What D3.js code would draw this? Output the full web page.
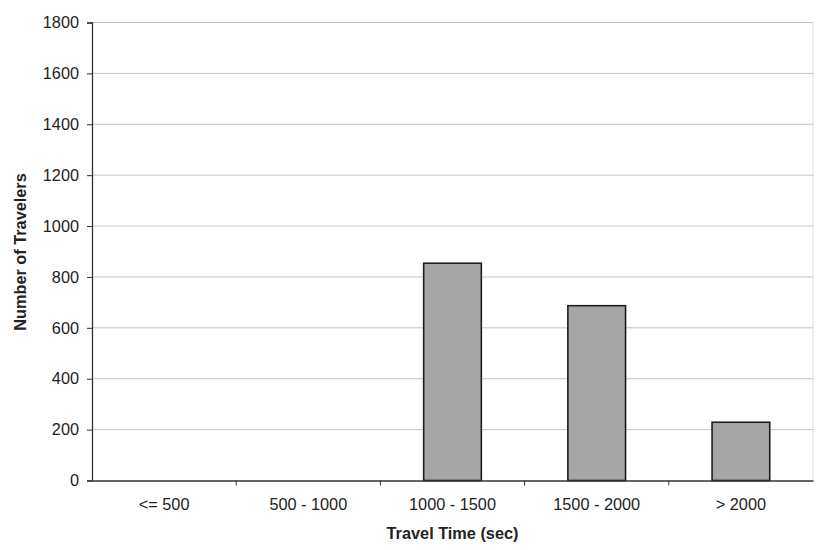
<!DOCTYPE html>
<html><head><meta charset="utf-8">
<script src="https://cdn.jsdelivr.net/npm/d3@7"></script>
<style>
html,body{margin:0;padding:0;background:#fff;}
svg{display:block;font-family:"Liberation Sans",Arial,sans-serif;}
</style></head>
<body>
<svg id="c" width="817" height="550"></svg>
<script>
const categories = ["<= 500","500 - 1000","1000 - 1500","1500 - 2000","> 2000"];
const travelers = [0, 0, 854, 687, 229];
const yTicks = [0,200,400,600,800,1000,1200,1400,1600,1800];
const xTitle = "Travel Time (sec)";
const yTitle = "Number of Travelers";

const svg = d3.select("#c");
const m = {left:92, right:813, top:22.5, bottom:480.5};
const fs = 16.3;

const x = d3.scaleBand().domain(categories).range([m.left, m.right]).paddingInner(0.6).paddingOuter(0.3);
const xb = d3.scaleBand().domain(categories).range([m.left, m.right]);
const y = d3.scaleLinear().domain([0,1800]).range([m.bottom, m.top]);

// gridlines
svg.append("g").selectAll("line").data(yTicks.filter(d=>d>0)).join("line")
  .attr("x1", m.left).attr("x2", m.right)
  .attr("y1", d=>y(d)).attr("y2", d=>y(d))
  .attr("stroke", "#c4c4c4").attr("stroke-width", 1);
// right border
svg.append("line").attr("x1", m.right).attr("x2", m.right).attr("y1", m.top).attr("y2", m.bottom)
  .attr("stroke", "#bdbdbd").attr("stroke-dasharray", "1,1");

// bars
svg.append("g").selectAll("rect").data(categories.map((c,i)=>({c, v:travelers[i]})).filter(d=>d.v>0)).join("rect")
  .attr("x", d=>x(d.c)).attr("width", x.bandwidth())
  .attr("y", d=>y(d.v)).attr("height", d=>y(0)-y(d.v))
  .attr("fill", "#a6a6a6").attr("stroke", "#1e1e1e").attr("stroke-width", 1.6);

// y axis
const ya = svg.append("g").attr("transform", `translate(${m.left},0)`)
  .call(d3.axisLeft(y).tickValues(yTicks).tickSize(5).tickPadding(8).tickFormat(d3.format("d")));
ya.select(".domain").attr("stroke", "#333").attr("stroke-width", 1.3);
ya.selectAll(".tick line").attr("stroke", "#333");
ya.selectAll("text").attr("font-size", fs).attr("fill", "#222").attr("font-family", "Liberation Sans, Arial, sans-serif");

// x axis
const xa = svg.append("g").attr("transform", `translate(0,${m.bottom})`)
  .call(d3.axisBottom(x).tickSize(0).tickPadding(18));
xa.select(".domain").attr("stroke", "#333").attr("stroke-width", 1.5);
xa.selectAll("text").attr("font-size", fs).attr("fill", "#222").attr("font-family", "Liberation Sans, Arial, sans-serif");
// boundary ticks
svg.append("g").selectAll("line").data(categories.slice(1)).join("line")
  .attr("x1", d=>xb(d)).attr("x2", d=>xb(d))
  .attr("y1", m.bottom).attr("y2", m.bottom+5)
  .attr("stroke", "#333");

// titles
svg.append("text").attr("x", (m.left+m.right)/2).attr("y", 539)
  .attr("text-anchor", "middle").attr("font-size", fs).attr("font-weight", "bold").attr("fill", "#222")
  .text(xTitle);
svg.append("text").attr("transform", `translate(26,252) rotate(-90)`)
  .attr("text-anchor", "middle").attr("font-size", fs).attr("font-weight", "bold").attr("fill", "#222")
  .text(yTitle);
</script>
</body></html>
